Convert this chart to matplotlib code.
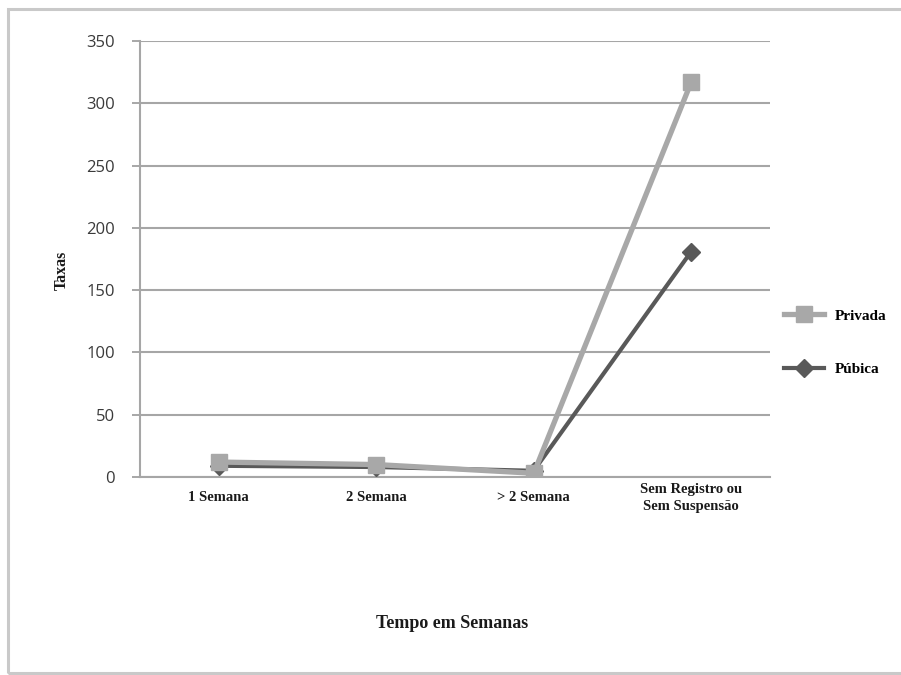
import matplotlib
matplotlib.use("Agg")
import matplotlib.pyplot as plt
from matplotlib.patches import Rectangle

# Chart data
categorias = ["1 Semana", "2 Semana", "> 2 Semana", "Sem Registro ou\nSem Suspensão"]
privada = [12, 10, 3, 317]
publica = [9, 8, 5, 181]
yticks = [0, 50, 100, 150, 200, 250, 300, 350]

serif = ["Liberation Serif", "DejaVu Serif"]
sans = ["Open Sans", "DejaVu Sans"]

W, H = 901, 675
fig = plt.figure(figsize=(W / 100, H / 100), dpi=100)

# Outer frame of the chart area
fig.patches.append(Rectangle((8 / W, 2 / H), 1.0, 1 - 11 / H, transform=fig.transFigure,
                             fill=False, edgecolor="#c9c9c9", linewidth=2.2))

ax = fig.add_axes([140 / W, (H - 477) / H, 630 / W, 436 / H])

x = list(range(len(categorias)))
ax.plot(x, publica, "-D", color="#595959", lw=3, markersize=9,
        markeredgecolor="#595959", label="Púbica", zorder=3)
ax.plot(x, privada, "-s", color="#a8a8a8", lw=3.8, markersize=11,
        markeredgecolor="#a8a8a8", label="Privada", zorder=4)

# Axes cosmetics
ax.set_xlim(-0.5, len(categorias) - 0.5)
ax.set_ylim(0, 350)
ax.set_yticks(yticks)
ax.set_yticklabels([str(v) for v in yticks], fontfamily=sans, fontsize=12,
                   color="#3a3a3a")
ax.set_xticks(x)
ax.set_xticklabels(categorias, fontfamily=serif, fontweight="bold", fontsize=10.5,
                   color="#1a1a1a", linespacing=1.35, va="center")
ax.tick_params(axis="x", length=0, pad=15)
ax.tick_params(axis="y", length=6, width=1.3, color="#a0a0a0", pad=12)
ax.grid(axis="y", color="#a6a6a6", linewidth=1.5)
ax.set_axisbelow(True)
for side in ["top", "right"]:
    ax.spines[side].set_visible(False)
ax.spines["left"].set_color("#a6a6a6")
ax.spines["left"].set_linewidth(1.5)
ax.spines["bottom"].set_color("#a6a6a6")
ax.spines["bottom"].set_linewidth(1.5)

fig.text(62 / W, (H - 270) / H, "Taxas", rotation=90, ha="center", va="center",
         fontfamily=serif, fontweight="bold", fontsize=11.5, color="#1a1a1a")
fig.text(452 / W, (H - 623) / H, "Tempo em Semanas", ha="center", va="center",
         fontfamily=serif, fontweight="bold", fontsize=13, color="#1a1a1a")

handles, labels = ax.get_legend_handles_labels()
fig.legend(handles[::-1], labels[::-1], loc="upper left",
           bbox_to_anchor=(784 / W, (H - 309) / H), frameon=False,
           borderpad=0, borderaxespad=0, handlelength=2.6, handletextpad=0.7,
           labelspacing=2.6, prop={"family": serif, "weight": "bold", "size": 11})

fig.savefig("out.png", dpi=100, facecolor="white")
